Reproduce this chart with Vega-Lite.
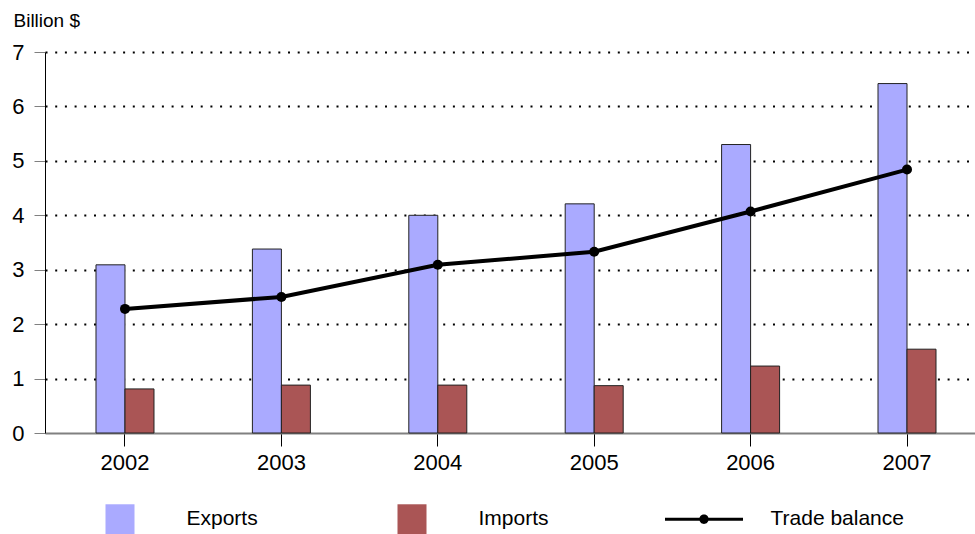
{
  "$schema": "https://vega.github.io/schema/vega-lite/v6.json",
  "autosize": {"type": "none"},
  "padding": {"left": 45, "top": 52, "right": 0, "bottom": 101},
  "width": 930,
  "height": 381,
  "background": "white",
  "config": {
    "view": {"stroke": null},
    "font": "Liberation Sans",
    "axis": {"labelFont": "Liberation Sans", "labelColor": "#000", "titleFont": "Liberation Sans", "titleColor": "#000"},
    "legend": {
      "orient": "none", "direction": "horizontal", "columns": 3, "gridAlign": "all",
      "symbolSize": 6084, "labelOffset": 26.5, "columnPadding": 50,
      "labelFontSize": 21, "labelFont": "Liberation Sans", "labelColor": "#000", "labelLimit": 300,
      "symbolStrokeColor": "#222", "symbolStrokeWidth": 1.2, "symbolOpacity": 1
    }
  },
  "data": {
    "values": [
      {"year": "2002", "series": "Exports", "value": 3.09},
      {"year": "2003", "series": "Exports", "value": 3.38},
      {"year": "2004", "series": "Exports", "value": 4.0},
      {"year": "2005", "series": "Exports", "value": 4.21},
      {"year": "2006", "series": "Exports", "value": 5.3},
      {"year": "2007", "series": "Exports", "value": 6.42},
      {"year": "2002", "series": "Imports", "value": 0.81},
      {"year": "2003", "series": "Imports", "value": 0.88},
      {"year": "2004", "series": "Imports", "value": 0.88},
      {"year": "2005", "series": "Imports", "value": 0.87},
      {"year": "2006", "series": "Imports", "value": 1.23},
      {"year": "2007", "series": "Imports", "value": 1.54},
      {"year": "2002", "series": "Trade balance", "value": 2.28},
      {"year": "2003", "series": "Trade balance", "value": 2.5},
      {"year": "2004", "series": "Trade balance", "value": 3.09},
      {"year": "2005", "series": "Trade balance", "value": 3.33},
      {"year": "2006", "series": "Trade balance", "value": 4.07},
      {"year": "2007", "series": "Trade balance", "value": 4.84}
    ]
  },
  "encoding": {
    "x": {
      "field": "year", "type": "nominal",
      "scale": {"type": "band", "range": [0, 942], "paddingInner": 0, "paddingOuter": 0.0115},
      "axis": {
        "title": null, "labelAngle": 0, "labelFontSize": 22, "labelPadding": 6,
        "domainColor": "#808080", "domainWidth": 2, "tickColor": "#000", "tickSize": 13, "tickWidth": 1, "grid": false
      }
    },
    "y": {
      "field": "value", "type": "quantitative",
      "scale": {"domain": [0, 7], "nice": false},
      "axis": {
        "values": [0, 1, 2, 3, 4, 5, 6, 7],
        "title": "Billion $", "titleAngle": 0, "titleAlign": "left", "titleBaseline": "alphabetic",
        "titleX": -32, "titleY": -26, "titleFontSize": 19, "titleFontWeight": "normal",
        "labelFontSize": 22, "labelPadding": 10,
        "domainColor": "#000", "domainWidth": 1, "tickColor": "#808080", "tickSize": 11,
        "grid": true, "gridColor": "#000", "gridDash": [2, 7.7], "gridWidth": 2,
        "gridOpacity": {"condition": {"test": "datum.value === 0", "value": 0}, "value": 1}
      }
    }
  },
  "layer": [
    {
      "transform": [{"filter": "datum.series !== 'Trade balance'"}],
      "mark": {"type": "bar", "stroke": "#222", "strokeWidth": 1},
      "encoding": {
        "xOffset": {"field": "series", "type": "nominal", "scale": {"domain": ["Exports", "Imports"], "range": [49.2, 107.2], "paddingInner": 0, "paddingOuter": 0}},
        "color": {
          "field": "series", "type": "nominal",
          "scale": {"domain": ["Exports", "Imports", "Trade balance"], "range": ["#AAAAFF", "#AA5555", "#000000"]},
          "legend": {"title": null, "orient": "none", "legendX": 35, "legendY": 427, "symbolStrokeColor": "#222"}
        }
      }
    },
    {
      "transform": [{"filter": "datum.series === 'Trade balance'"}],
      "mark": {"type": "line", "color": "#000", "strokeWidth": 4, "point": {"filled": true, "size": 100, "color": "#000"}}
    },
    {
      "transform": [{"filter": "false"}],
      "mark": {"type": "point", "filled": true, "opacity": 1, "stroke": "#222", "strokeWidth": 1.2},
      "encoding": {
        "color": {
          "field": "series", "type": "nominal",
          "legend": {"title": null, "orient": "none", "legendX": 35, "legendY": 427, "symbolStrokeColor": "#222"}
        },
        "shape": {
          "field": "series", "type": "nominal",
          "scale": {
            "domain": ["Exports", "Imports", "Trade balance"],
            "range": [
              "M-0.372,-0.385H0.372V0.385H-0.372Z",
              "M-0.372,-0.385H0.372V0.385H-0.372Z",
              "M0,-0.385M0,0.385M-1,-0.04H1V0.04H-1Z M0.12,0A0.12,0.12 0 1,1 -0.12,0A0.12,0.12 0 1,1 0.12,0Z"
            ]
          },
          "legend": {"title": null, "orient": "none", "legendX": 35, "legendY": 427, "symbolStrokeColor": "#222"}
        }
      }
    }
  ]
}
